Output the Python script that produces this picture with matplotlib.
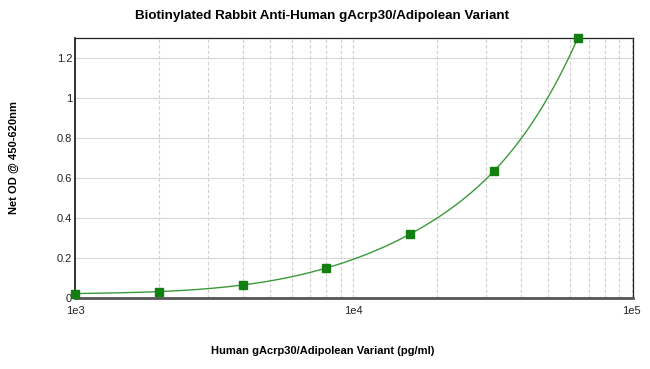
import numpy as np
import matplotlib
matplotlib.use("Agg")
import matplotlib.pyplot as plt
from matplotlib.ticker import FixedLocator, LogLocator, NullFormatter

conc = [1000, 2000, 4000, 8000, 16000, 32000, 64000]
od = [0.022, 0.032, 0.065, 0.15, 0.32, 0.635, 1.30]
yticks = [0, 0.2, 0.4, 0.6, 0.8, 1, 1.2]
ytick_labels = ["0", "0.2", "0.4", "0.6", "0.8", "1", "1.2"]
xticks = [1e3, 1e4, 1e5]
xtick_labels = ["1e3", "1e4", "1e5"]

plt.rcParams['font.family'] = ['Liberation Sans', 'DejaVu Sans']


def natural_spline(x, y, xs):
    x = np.asarray(x, float); y = np.asarray(y, float)
    n = len(x)
    h = np.diff(x)
    A = np.zeros((n, n)); b = np.zeros(n)
    A[0, 0] = A[-1, -1] = 1
    for i in range(1, n - 1):
        A[i, i - 1] = h[i - 1]
        A[i, i] = 2 * (h[i - 1] + h[i])
        A[i, i + 1] = h[i]
        b[i] = 3 * ((y[i + 1] - y[i]) / h[i] - (y[i] - y[i - 1]) / h[i - 1])
    c = np.linalg.solve(A, b)
    bb = (np.diff(y) / h) - h * (2 * c[:-1] + c[1:]) / 3
    d = np.diff(c) / (3 * h)
    idx = np.clip(np.searchsorted(x, xs) - 1, 0, n - 2)
    t = xs - x[idx]
    return y[idx] + bb[idx] * t + c[idx] * t**2 + d[idx] * t**3


fig = plt.figure(figsize=(6.5, 3.69), dpi=100)
ax = fig.add_axes([75/650, 1-298/369, 558/650, 260/369])

lx = np.log10(conc)
xs = np.linspace(lx[0], lx[-1], 400)
ys = np.exp(natural_spline(lx, np.log(od), xs))
ax.plot(10**xs, ys, color='#3a9a3a', lw=1, zorder=3)
ax.plot(conc, od, 's', color='#118011', ms=6, zorder=4, clip_on=False)

ax.set_xscale('log')
ax.set_xlim(1e3, 1.01e5)
ax.set_ylim(0, 1.3)
ax.set_yticks(yticks)
ax.set_yticklabels(ytick_labels)
ax.xaxis.set_major_locator(FixedLocator(xticks))
ax.set_xticklabels(xtick_labels)
ax.xaxis.set_minor_locator(LogLocator(base=10, subs=np.arange(2, 10)))
ax.xaxis.set_minor_formatter(NullFormatter())
ax.tick_params(axis='both', which='both', length=0, labelsize=8, colors='#222222', pad=2)
ax.tick_params(axis='x', pad=6)

ax.grid(axis='y', which='major', color='#d8d8d8', lw=0.9, ls='-')
ax.grid(axis='x', which='both', color='#d0d0d0', lw=0.8, ls=(0, (3, 2)))
ax.set_axisbelow(True)

for s in ['top', 'right']:
    ax.spines[s].set_color('#222222')
    ax.spines[s].set_linewidth(0.9)
ax.spines['left'].set_color('#111111')
ax.spines['left'].set_linewidth(1.2)
ax.spines['bottom'].set_color('#555555')
ax.spines['bottom'].set_linewidth(2)

fig.text(322/650, 1-16/369, "Biotinylated Rabbit Anti-Human gAcrp30/Adipolean Variant",
         ha='center', va='center', fontsize=9.6, fontweight='bold')
fig.text(323/650, 1-351/369, "Human gAcrp30/Adipolean Variant (pg/ml)",
         ha='center', va='center', fontsize=8, fontweight='bold')
fig.text(14/650, 1-157/369, "Net OD @ 450-620nm", rotation=90,
         ha='center', va='center', fontsize=8, fontweight='bold')

fig.savefig("out.png", dpi=100)
